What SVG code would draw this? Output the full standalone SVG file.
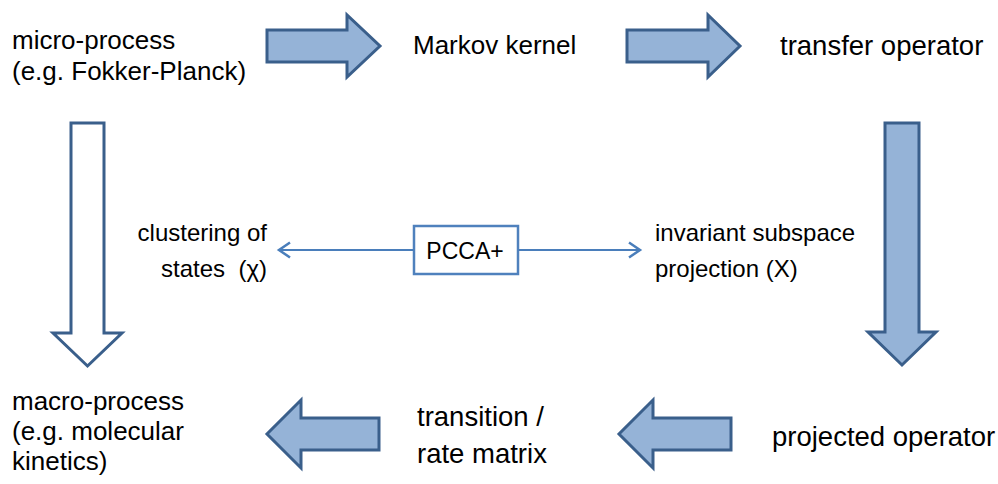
<svg xmlns="http://www.w3.org/2000/svg" width="998" height="484" viewBox="0 0 998 484">
  <style>
    .big { stroke: #3a5f8b; stroke-width: 3; stroke-linejoin: miter; }
    .fill { fill: #95b3d7; }
    .hollow { fill: #ffffff; }
    .t { font-family: "Liberation Sans", Arial, sans-serif; fill: #000000; }
    .m { font-size: 26px; }
    .l { font-size: 27.5px; }
    .s { font-size: 24px; }
    .conn { stroke: #4a7ebb; stroke-width: 2; fill: none; }
  </style>
  <defs>
    <marker id="open" markerWidth="18" markerHeight="18" refX="14" refY="9" orient="auto" markerUnits="userSpaceOnUse">
      <path d="M3,1.5 L14,9 L3,16.5" fill="none" stroke="#4a7ebb" stroke-width="2.5"/>
    </marker>
  </defs>
  <rect width="998" height="484" fill="#ffffff"/>

  <g id="arrow-micro-markov"><polygon class="big fill" points="267,30 347,30 347,15 380,46 347,77 347,62 267,62"/></g>
  <g id="arrow-markov-transfer"><polygon class="big fill" points="627,30 708,30 708,15 740,46 708,77 708,62 627,62"/></g>
  <g id="arrow-transfer-projected"><polygon class="big fill" points="885,123 919,123 919,332 936,332 902,365 868,332 885,332"/></g>
  <g id="arrow-micro-macro"><polygon class="big hollow" points="71,123 104,123 104,333 122,333 87.5,366 53,333 71,333"/></g>
  <g id="arrow-projected-matrix"><polygon class="big fill" points="731,418 653,418 653,400 619,434 653,468 653,450 731,450"/></g>
  <g id="arrow-matrix-macro"><polygon class="big fill" points="379,418 301,418 301,400 267,434 301,468 301,450 379,450"/></g>

  <g id="micro-process">
    <text class="t m" x="12" y="49">micro-process</text>
    <text class="t m" x="12" y="80">(e.g. Fokker-Planck)</text>
  </g>
  <g id="markov-kernel"><text class="t m" x="413" y="54">Markov kernel</text></g>
  <g id="transfer-operator"><text class="t l" x="780" y="55">transfer operator</text></g>
  <g id="clustering">
    <text class="t s" x="267" y="241" text-anchor="end">clustering of</text>
    <text class="t s" x="267" y="277" text-anchor="end" xml:space="preserve">states  (χ)</text>
  </g>
  <g id="invariant">
    <text class="t s" x="655" y="241">invariant subspace</text>
    <text class="t s" x="655" y="277">projection (X)</text>
  </g>
  <g id="pcca">
    <rect x="414" y="226" width="104" height="48" fill="#ffffff" stroke="#4f81bd" stroke-width="2.5"/>
    <text class="t" x="465" y="259" font-size="23" text-anchor="middle">PCCA+</text>
  </g>
  <g id="projected-operator"><text class="t l" x="772" y="446">projected operator</text></g>
  <g id="transition-matrix">
    <text class="t l" x="417" y="426">transition /</text>
    <text class="t l" x="417" y="463">rate matrix</text>
  </g>
  <g id="macro-process">
    <text class="t m" x="12" y="410">macro-process</text>
    <text class="t m" x="12" y="440">(e.g. molecular</text>
    <text class="t m" x="12" y="470">kinetics)</text>
  </g>

  <g id="connectors">
    <line class="conn" x1="414" y1="250" x2="279" y2="250" marker-end="url(#open)"/>
    <line class="conn" x1="518" y1="250" x2="640" y2="250" marker-end="url(#open)"/>
  </g>
</svg>
